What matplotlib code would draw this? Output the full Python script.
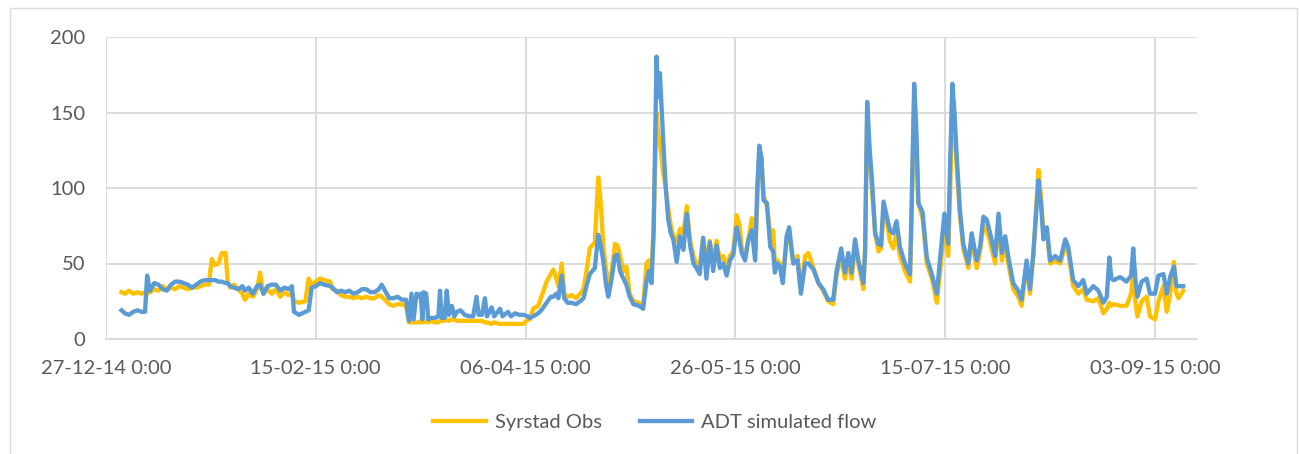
import matplotlib.pyplot as plt
from matplotlib.patches import Rectangle
import pandas as pd

plt.rcParams['font.family'] = ['Lato', 'DejaVu Sans']

start = pd.Timestamp("2014-12-27")

# days since 27-12-14
days = [3.7, 4.5, 5.5, 6.5, 7.5, 8.5, 9.3, 9.8, 10.5, 11.5, 12.5, 13.5, 14.5, 15.5, 16.5,
        17.5, 18.5, 19.5, 20.5, 21.5, 22.5, 23.5, 24.5, 25.2, 26.0, 26.8, 27.6, 28.5, 29.0,
        29.6, 30.5, 31.5, 32.5, 33.1, 34.0, 35.0, 36.0, 36.7, 37.5, 38.5, 39.5, 40.5, 41.5,
        42.5, 43.5, 44.3, 44.8, 46.0, 47.5, 48.3, 49.0, 50.0, 51.0, 52.0, 53.4, 54.0, 55.0,
        56, 57, 58, 59, 60, 61, 62, 63, 64, 65, 65.7, 66.5, 67.5, 68.5, 69.5, 70.5, 71.5,
        72.2, 72.8, 73.3, 74.0, 74.5, 75.0, 75.4, 75.7, 76.3, 76.8, 77.5, 78.5, 79.2, 79.6,
        80.0, 80.7, 81.2, 81.7, 82.4, 83.0, 83.6, 84.5, 85.5, 86.5, 87.5, 88.3, 88.8, 89.6,
        90.3, 90.8, 91.9, 92.5, 93.9, 94.5, 95.8, 96.5, 97.5, 98.5, 99.5, 100.5,
        101.0, 101.8, 103, 104, 105, 106, 106.6, 107.3, 107.8, 108.6, 109.2, 110, 111, 112,
        113, 113.8, 114.5, 115.3, 116.5, 117.3, 117.9, 118.5, 119.2, 119.7, 120.5, 121.3,
        121.9, 122.5, 123.3, 124.0, 124.8, 125.7, 127, 128, 128.8, 129.4, 130, 130.5, 131.2,
        131.6, 132.0, 132.8, 133.4, 134, 134.6, 135.2, 136, 136.8, 137.6, 138.4, 139.2, 140,
        140.7, 141.5, 142.3, 143.1, 143.9, 144.7, 145.5, 146.3, 147.1, 147.9, 148.7, 149.5,
        150.3, 151.0, 151.5, 152.3, 153.1, 153.9, 154.7, 155.2, 155.7, 156.2, 156.7, 157.5,
        158.3, 159.0, 159.4, 160.0, 160.6, 161.3, 162.2, 162.8, 163.3, 163.8, 164.8, 165.6,
        166.6, 167.4, 168.6, 169.8, 170.9, 172.1, 173.3, 174.1, 175.2, 176.1, 176.9, 177.7,
        178.5, 179.3, 180.5, 180.9, 181.4, 182.0, 182.5, 183.3, 184.1, 184.7, 185.3, 186.1,
        186.8, 187.6, 188.4, 189.2, 190.4, 191.6, 192.0, 192.6, 193.1, 193.6, 194.6, 195.6,
        196.8, 198, 198.8, 199.8, 200.7, 201.2, 201.7, 202.2, 202.7, 203.5, 204.3, 205.5,
        206.3, 207.5, 208.3, 209.1, 209.9, 210.7, 211.9, 212.7, 213.5, 214.3, 215.0, 216.2,
        217.4, 218.2, 219.4, 220.2, 221, 222.2, 222.8, 223.4, 224.2, 225, 226.2, 227.4,
        228.6, 229.3, 230.5, 231.7, 232.9, 233.7, 235.3, 236.5, 237.7, 238.5, 239.1, 239.6,
        240.1, 241.7, 243.2, 244.3, 244.8, 245.3, 245.8, 246.8, 248.0, 248.8, 250, 250.8,
        252, 252.8, 253.6, 254.5, 255.1, 255.6, 256.7]

obs = [31, 30, 32, 30, 31, 30, 31, 30, 31, 33, 32, 35, 33, 34, 33,
       35, 34, 33, 34, 34, 35, 36, 36, 53, 49, 50, 57, 57, 38,
       34, 36, 33, 30, 26, 30, 28, 33, 44, 30, 33, 30, 33, 28,
       31, 29, 31, 25, 24, 25, 40, 36, 38, 40, 39, 38, 33, 32,
       29, 28, 28, 27, 28, 27, 28, 27, 27, 29, 28, 26, 23, 22, 23, 23, 22,
       11, 11, 11, 11, 11, 12, 11, 11, 12, 11, 12, 11, 11, 12,
       12, 12, 13, 12, 13, 13, 12, 12, 12, 12, 12, 12, 12, 12,
       11, 11, 10, 11, 10, 10, 10, 10, 10, 10, 10, 13,
       13, 20, 22, 30, 38, 43, 46, 40, 35, 50, 30, 28, 29, 27,
       30, 33, 45, 60, 64, 107, 90, 62, 45, 37, 45, 63,
       62, 55, 45, 48, 30, 25, 24, 22, 50, 52, 42, 75, 150,
       135, 130, 110, 100, 86, 75, 68, 65, 73, 70, 88, 65, 55,
       50, 47, 67, 50, 65, 50, 65, 52, 55, 48, 55, 58,
       82, 75, 60, 55, 66, 80, 55, 90, 125, 120, 95, 88,
       70, 72, 50, 52, 50, 40, 65, 72, 60, 50, 55, 32,
       55, 57, 47, 37, 32, 25, 23, 42, 55, 40, 52, 40,
       62, 50, 33, 60, 150, 120, 100, 70, 58, 60, 85, 78,
       65, 60, 70, 55, 45, 38, 80, 160, 130, 90, 80, 50,
       40, 24, 45, 75, 55, 100, 165, 140, 115, 82, 60, 47,
       66, 47, 58, 75, 72, 64, 50, 78, 52, 63, 50, 33,
       28, 22, 50, 30, 55, 112, 95, 70, 72, 50, 52, 50,
       62, 58, 35, 30, 33, 26, 25, 27, 17, 20, 24, 22,
       23, 22, 22, 30, 44, 25, 15, 25, 28, 15, 13, 25,
       35, 18, 30, 51, 30, 27, 32]

sim = [19, 17, 16, 18, 19, 18, 18, 42, 32, 37, 36, 33, 32, 36, 38,
       38, 37, 36, 34, 36, 38, 39, 39, 39, 39, 38, 38, 37, 37,
       35, 34, 33, 35, 32, 34, 30, 35, 36, 30, 35, 36, 36, 32,
       34, 33, 35, 18, 16, 18, 19, 34, 35, 37, 36, 35, 34, 31,
       32, 31, 32, 30, 31, 33, 33, 31, 31, 33, 36, 32, 27, 27, 28, 26, 26,
       12, 30, 13, 30, 28, 30, 13, 31, 30, 13, 14, 14, 15, 32,
       14, 14, 32, 16, 22, 15, 18, 19, 16, 15, 15, 28, 16, 16,
       27, 15, 21, 15, 20, 15, 18, 15, 17, 16, 16, 15,
       14, 15, 17, 20, 24, 28, 28, 30, 27, 42, 27, 24, 24, 23,
       25, 27, 35, 43, 47, 69, 62, 52, 35, 28, 40, 55,
       56, 45, 40, 36, 28, 23, 22, 20, 38, 45, 37, 70, 187,
       160, 176, 131, 100, 79, 70, 66, 51, 68, 59, 83, 62, 50,
       47, 43, 67, 40, 64, 45, 62, 47, 50, 42, 52, 56,
       74, 65, 57, 52, 66, 72, 52, 100, 128, 120, 92, 90,
       61, 58, 44, 50, 48, 37, 68, 74, 62, 50, 52, 30,
       50, 50, 46, 37, 33, 26, 26, 45, 60, 44, 57, 44,
       66, 52, 37, 57, 157, 125, 107, 70, 63, 62, 91, 81,
       72, 70, 78, 61, 50, 43, 90, 169, 140, 90, 84, 54,
       43, 30, 54, 83, 63, 120, 169, 150, 123, 85, 63, 50,
       70, 52, 61, 81, 79, 70, 55, 83, 57, 68, 55, 37,
       32, 26, 52, 33, 57, 105, 90, 66, 74, 52, 55, 52,
       66, 61, 39, 35, 39, 30, 35, 32, 24, 28, 54, 40,
       39, 41, 38, 42, 60, 40, 28, 38, 40, 30, 30, 42,
       43, 30, 41, 48, 35, 35, 35]

tick_days = [0, 50, 100, 150, 200, 250]
tick_labels = ["27-12-14 0:00", "15-02-15 0:00", "06-04-15 0:00",
               "26-05-15 0:00", "15-07-15 0:00", "03-09-15 0:00"]

dates = start + pd.to_timedelta(days, unit="D")
tick_dates = start + pd.to_timedelta(tick_days, unit="D")

fig = plt.figure(figsize=(13, 4.54), dpi=100)
ax = fig.add_axes([106/1300, 1 - 339/454, (1197 - 106)/1300, (339 - 37)/454])

ax.plot(dates, obs, color="#FFC000", lw=3.1, label="Syrstad Obs", solid_joinstyle="round")
ax.plot(dates, sim, color="#5B9BD5", lw=3.1, label="ADT simulated flow", solid_joinstyle="round")

ax.set_ylim(0, 200)
ax.set_yticks([0, 50, 100, 150, 200])
ax.set_xlim(start, start + pd.Timedelta(days=260))
ax.set_xticks(tick_dates)
ax.set_xticklabels(tick_labels)

ax.grid(True, color="#D9D9D9", lw=1.3)
ax.set_axisbelow(True)
for s in ["top", "right", "left"]:
    ax.spines[s].set_visible(False)
ax.spines["bottom"].set_color("#D9D9D9")
ax.spines["bottom"].set_linewidth(1.3)
ax.tick_params(length=0, labelsize=14.5, labelcolor="#595959", pad=15)

fig.legend(loc="center", bbox_to_anchor=(655/1300, 1 - 422/454), ncol=2, frameon=False,
           fontsize=14.5, labelcolor="#595959", handlelength=2.6, handletextpad=0.45,
           columnspacing=1.9)

fig.patches.append(Rectangle((10/1300, -0.1), 1287/1300, 1.1 - 8/454, transform=fig.transFigure,
                             fill=False, edgecolor="#D9D9D9", lw=1))

fig.savefig("out.png", dpi=100)
